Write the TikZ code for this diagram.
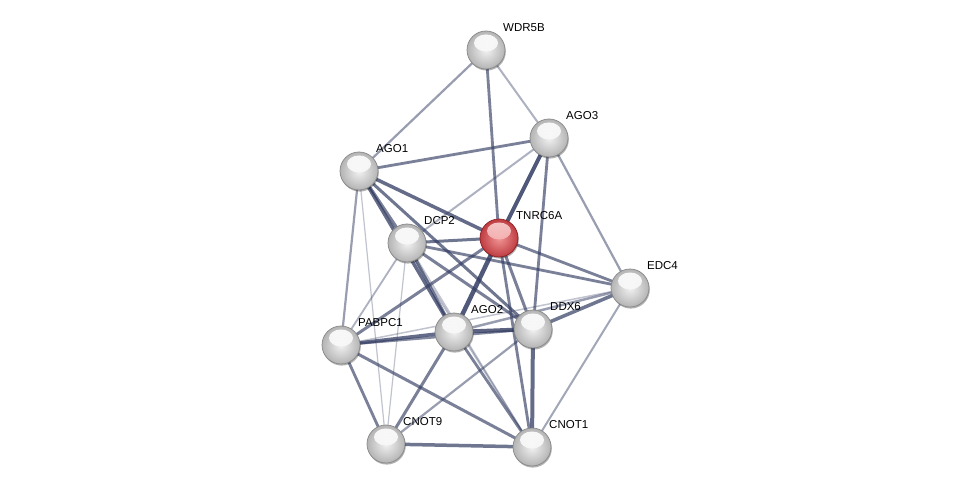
\documentclass[tikz,border=0pt]{standalone}
\usepackage{fontspec}
\setmainfont{Liberation Sans}
\usetikzlibrary{backgrounds,shadows}
\definecolor{edgec}{RGB}{50,60,98}
\definecolor{greyin}{RGB}{242,242,242}
\definecolor{greyout}{RGB}{180,180,180}
\definecolor{greyrim}{RGB}{135,135,135}
\definecolor{redin}{RGB}{242,150,150}
\definecolor{redout}{RGB}{190,60,65}
\definecolor{redrim}{RGB}{140,30,35}
\definecolor{redhi}{RGB}{250,215,215}
\begin{document}
\begin{tikzpicture}[x=1pt,y=-1pt,
 ed/.style 2 args={draw=edgec, line width=#1, draw opacity=#2},
 sphere/.style n args={4}{circle, minimum size=38pt, inner sep=0pt, draw=#3, line width=0.7pt,
   inner color=#1, outer color=#2,
   drop shadow={shadow xshift=0.8pt, shadow yshift=-1.6pt, opacity=0.3, fill=black},
   path picture={\shade[top color=#4, bottom color=#1, opacity=0.9] ([yshift=7pt]path picture bounding box.center) ellipse (12pt and 8.5pt);}},
 ball/.style={sphere={greyin}{greyout}{greyrim}{white}},
 redball/.style={sphere={redin}{redout}{redrim}{redhi}},
 lab/.style={anchor=west, font=\fontsize{11.5}{13}\selectfont, inner sep=0pt}]
\useasboundingbox (0,0) rectangle (975,492);

\node[ball] (wdr) at (486,50) {};
\node[ball] (ago3) at (549,138) {};
\node[ball] (ago1) at (359,171) {};
\node[redball] (tnr) at (499,238) {};
\node[ball] (dcp) at (407,243) {};
\node[ball] (edc) at (630,288) {};
\node[ball] (ago2) at (454,332) {};
\node[ball] (ddx) at (533,329) {};
\node[ball] (pab) at (341,345) {};
\node[ball] (cn9) at (386,444) {};
\node[ball] (cn1) at (532,447) {};

\node[lab] (lwdr) at ([shift={(17pt,22pt)}]wdr.center) {WDR5B};
\node[lab] (lago3) at ([shift={(17pt,22pt)}]ago3.center) {AGO3};
\node[lab] (lago1) at ([shift={(17pt,22pt)}]ago1.center) {AGO1};
\node[lab] (ltnr) at ([shift={(17pt,22pt)}]tnr.center) {TNRC6A};
\node[lab] (ldcp) at ([shift={(17pt,22pt)}]dcp.center) {DCP2};
\node[lab] (ledc) at ([shift={(17pt,22pt)}]edc.center) {EDC4};
\node[lab] (lago2) at ([shift={(17pt,22pt)}]ago2.center) {AGO2};
\node[lab] (lddx) at ([shift={(17pt,22pt)}]ddx.center) {DDX6};
\node[lab] (lpab) at ([shift={(17pt,22pt)}]pab.center) {PABPC1};
\node[lab] (lcn9) at ([shift={(17pt,22pt)}]cn9.center) {CNOT9};
\node[lab] (lcn1) at ([shift={(17pt,22pt)}]cn1.center) {CNOT1};

\begin{scope}[on background layer]
\fill[white] (0,0) rectangle (975,492);
\draw[ed={2.2}{0.5}] (wdr.center) -- (ago1.center);
\draw[ed={2.8}{0.65}] (wdr.center) -- (tnr.center);
\draw[ed={2}{0.4}] (wdr.center) -- (ago3.center);
\draw[ed={2.8}{0.65}] (ago3.center) -- (ago1.center);
\draw[ed={2}{0.4}] (ago3.center) -- (dcp.center);
\draw[ed={4}{0.85}] (ago3.center) -- (tnr.center);
\draw[ed={2.8}{0.65}] (ago3.center) -- (ddx.center);
\draw[ed={2.2}{0.5}] (ago3.center) -- (edc.center);
\draw[ed={3}{0.65}] (ago1.center) -- (dcp.center);
\draw[ed={3.5}{0.75}] (ago1.center) -- (tnr.center);
\draw[ed={3.5}{0.75}] (ago1.center) -- (ago2.center);
\draw[ed={3}{0.7}] (ago1.center) -- (ddx.center);
\draw[ed={1.8}{0.35}] (ago1.center) -- (cn1.center);
\draw[ed={2.2}{0.5}] (ago1.center) -- (pab.center);
\draw[ed={1.2}{0.3}] (ago1.center) -- (cn9.center);
\draw[ed={3}{0.7}] (dcp.center) -- (tnr.center);
\draw[ed={2.8}{0.65}] (dcp.center) -- (edc.center);
\draw[ed={3}{0.65}] (dcp.center) -- (ddx.center);
\draw[ed={3}{0.65}] (dcp.center) -- (ago2.center);
\draw[ed={1.8}{0.4}] (dcp.center) -- (pab.center);
\draw[ed={1.2}{0.3}] (dcp.center) -- (cn9.center);
\draw[ed={1.5}{0.3}] (dcp.center) -- (cn1.center);
\draw[ed={2.8}{0.65}] (tnr.center) -- (edc.center);
\draw[ed={4.5}{0.85}] (tnr.center) -- (ago2.center);
\draw[ed={3}{0.65}] (tnr.center) -- (ddx.center);
\draw[ed={2.8}{0.65}] (tnr.center) -- (cn1.center);
\draw[ed={3}{0.65}] (tnr.center) -- (pab.center);
\draw[ed={3.5}{0.7}] (edc.center) -- (ddx.center);
\draw[ed={2.5}{0.5}] (edc.center) -- (ago2.center);
\draw[ed={1.5}{0.3}] (edc.center) -- (pab.center);
\draw[ed={2}{0.45}] (edc.center) -- (cn1.center);
\draw[ed={4}{0.8}] (ago2.center) -- (ddx.center);
\draw[ed={3.5}{0.75}] (ago2.center) -- (pab.center);
\draw[ed={2.5}{0.6}] (pab.center) -- (ddx.center);
\draw[ed={2.8}{0.65}] (pab.center) -- (cn9.center);
\draw[ed={3}{0.65}] (pab.center) -- (cn1.center);
\draw[ed={3}{0.65}] (ago2.center) -- (cn9.center);
\draw[ed={2.8}{0.65}] (ago2.center) -- (cn1.center);
\draw[ed={2.2}{0.5}] (ddx.center) -- (cn9.center);
\draw[ed={4}{0.75}] (ddx.center) -- (cn1.center);
\draw[ed={3.5}{0.7}] (cn9.center) -- (cn1.center);
\end{scope}
\end{tikzpicture}
\end{document}
